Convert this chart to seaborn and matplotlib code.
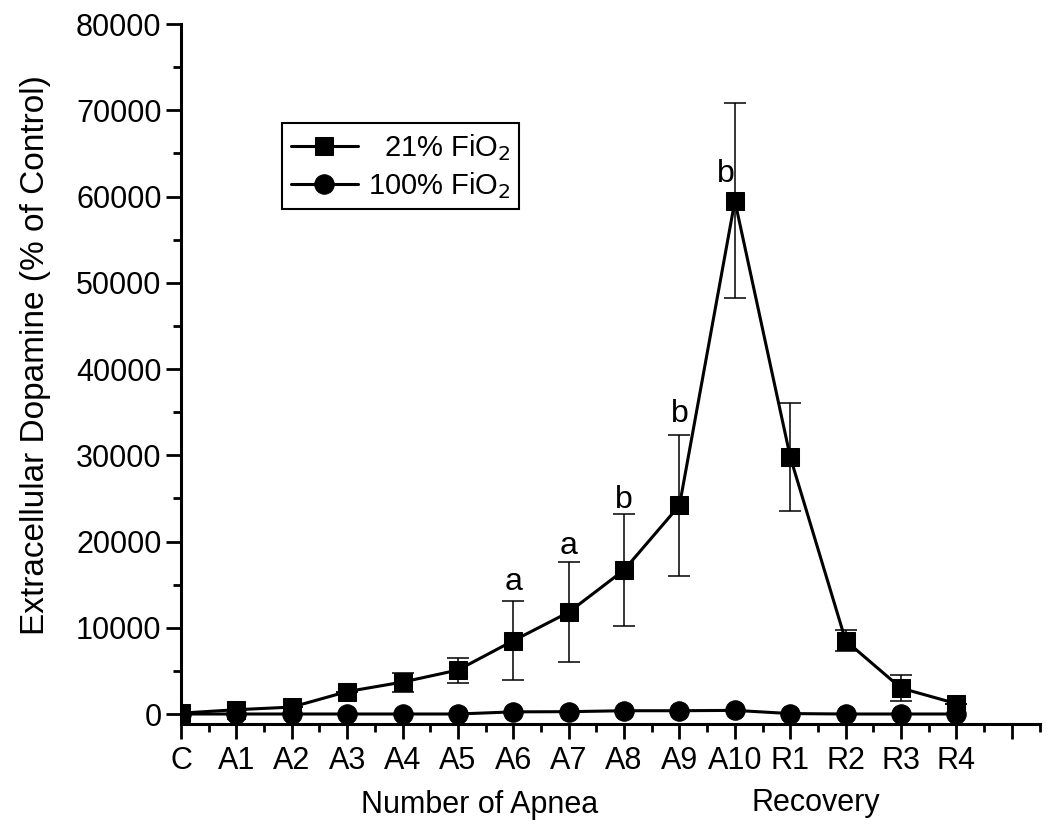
import numpy as np
import pandas as pd
import matplotlib
matplotlib.use("Agg")
import matplotlib.pyplot as plt
import seaborn as sns
from matplotlib.ticker import MultipleLocator

categories = ["C", "A1", "A2", "A3", "A4", "A5", "A6", "A7", "A8", "A9", "A10", "R1", "R2", "R3", "R4"]
fio2_21 = [100, 500, 800, 2600, 3700, 5100, 8500, 11800, 16700, 24200, 59500, 29800, 8500, 3000, 1200]
fio2_21_err = [0, 0, 0, 0, 1100, 1450, 4600, 5800, 6500, 8200, 11300, 6300, 1200, 1500, 0]
fio2_100 = [0, 0, 0, 0, 0, 0, 250, 270, 380, 380, 420, 50, 0, 0, 0]
annot_cats = ["A6", "A7", "A8", "A9", "A10"]
annot_text = ["a", "a", "b", "b", "b"]
annot_y = [14370, 18540, 23870, 33840, 61650]

sns.set_theme(style="ticks")
plt.rcParams["font.family"] = ["Liberation Sans", "DejaVu Sans"]
for k in ["text.color", "axes.labelcolor", "xtick.color", "ytick.color", "axes.edgecolor"]:
    plt.rcParams[k] = "black"

fig = plt.figure(figsize=(10.5, 8.3), dpi=100)
ax = fig.add_axes([0.1724, 0.1277, 0.8176, 0.8433])

idx = np.arange(len(categories))
df = pd.DataFrame({
    "x": np.concatenate([idx, idx]),
    "y": fio2_21 + fio2_100,
    "group": ["21"] * len(idx) + ["100"] * len(idx),
})

ax.errorbar(idx, fio2_21, yerr=fio2_21_err, fmt="none", ecolor="black",
            elinewidth=1.1, capsize=8, capthick=1.1, zorder=2)
sns.lineplot(data=df[df.group == "21"], x="x", y="y", ax=ax, color="black",
             marker="s", markersize=13, linewidth=2.2, markeredgecolor="black",
             label="  21% FiO$_2$", zorder=3)
sns.lineplot(data=df[df.group == "100"], x="x", y="y", ax=ax, color="black",
             marker="o", markersize=14, linewidth=2.2, markeredgecolor="black",
             label="100% FiO$_2$", zorder=3)

for cat, txt, yy in zip(annot_cats, annot_text, annot_y):
    i = categories.index(cat)
    dx = -0.16 if cat == "A10" else 0
    ax.text(i + dx, yy, txt, ha="center", va="baseline", fontsize=23)

ax.set_xlim(0, 15.5)
ax.set_ylim(-1160, 80000)
ax.set_xticks(list(idx) + [15])
ax.set_xticklabels(categories + [""], fontsize=22)
ax.xaxis.set_minor_locator(MultipleLocator(0.5))
ax.yaxis.set_major_locator(MultipleLocator(10000))
ax.yaxis.set_minor_locator(MultipleLocator(5000))
ax.tick_params(axis="y", labelsize=22, pad=3)
ax.tick_params(which="major", length=11, width=2, direction="out", color="black")
ax.tick_params(which="minor", length=6, width=2, direction="out", color="black")
ax.tick_params(axis="x", pad=5)

for s in ["top", "right"]:
    ax.spines[s].set_visible(False)
for s in ["left", "bottom"]:
    ax.spines[s].set_linewidth(2.2)
    ax.spines[s].set_color("black")

ax.set_xlabel("")
ax.set_ylabel("Extracellular Dopamine (% of Control)", fontsize=24)
ax.yaxis.set_label_coords(-0.152, 0.527, transform=ax.transAxes)

fig.text(480 / 1050, 1 - 805 / 830, "Number of Apnea", ha="center", va="center", fontsize=22)
fig.text(816 / 1050, 1 - 803 / 830, "Recovery", ha="center", va="center", fontsize=22)

leg = ax.legend(loc="upper left", bbox_to_anchor=(0.1176, 0.8586), borderaxespad=0,
                fontsize=21, frameon=True, fancybox=False, edgecolor="black",
                handlelength=2.3, borderpad=0.3, labelspacing=0.25, handletextpad=0.35,
                framealpha=1)
leg.get_frame().set_linewidth(1.5)

fig.savefig("out.png", dpi=100)
